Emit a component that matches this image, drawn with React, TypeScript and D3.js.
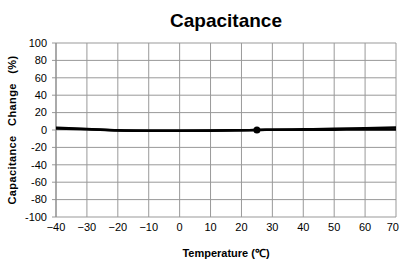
import React from "react";
import * as d3 from "d3";

const xTicks = [-40, -30, -20, -10, 0, 10, 20, 30, 40, 50, 60, 70];
const yTicks = [100, 80, 60, 40, 20, 0, -20, -40, -60, -80, -100];
const tempsA = [-40, -30, -20, -10, 0, 10, 20, 25, 30, 40, 50, 60, 70];
const valuesA = [2.5, 1.2, -0.3, -0.8, -0.9, -0.7, -0.3, 0, 0.3, 0.8, 1.3, 2.0, 2.8];
const tempsB = [-40, -30, -20, -10, 0, 10, 20, 25, 30, 40, 50, 60, 70];
const valuesB = [1.8, 0.8, -0.5, -1.0, -1.0, -0.8, -0.4, 0, 0.2, 0.3, 0.4, 0.5, 0.5];
const refPoint = [25, 0];

export default function App() {
  const W = 400, H = 261;
  const x = d3.scaleLinear().domain([-40, 70]).range([56, 396]);
  const y = d3.scaleLinear().domain([-100, 100]).range([217, 43]);
  const line = d3.line<[number, number]>().x(d => x(d[0])).y(d => y(d[1])).curve(d3.curveMonotoneX);
  const dA = line(tempsA.map((t, i) => [t, valuesA[i]] as [number, number]))!;
  const dB = line(tempsB.map((t, i) => [t, valuesB[i]] as [number, number]))!;
  const font = "'Liberation Sans', Arial, sans-serif";
  return (
    <svg width={W} height={H} style={{ position: "absolute", left: 0, top: 0 }} fontFamily={font}>
      <rect width={W} height={H} fill="#fff" />
      <text x={226} y={27} textAnchor="middle" fontSize={19} fontWeight="bold">Capacitance</text>
      {xTicks.map(t => (
        <line key={"gx" + t} x1={x(t)} x2={x(t)} y1={y(100)} y2={y(-100)} stroke="#999" strokeWidth={1} />
      ))}
      {yTicks.map(t => (
        <line key={"gy" + t} x1={x(-40) - 4} x2={x(70)} y1={y(t)} y2={y(t)} stroke="#999" strokeWidth={1} />
      ))}
      <line x1={x(-40)} x2={x(-40)} y1={y(100)} y2={y(-100)} stroke="#888" />
      {yTicks.map(t => (
        <text key={"ly" + t} x={47} y={y(t)} dy="0.35em" textAnchor="end" fontSize={11}>{t < 0 ? "-" + Math.abs(t) : t}</text>
      ))}
      {xTicks.map((t, i) => (
        <text key={"lx" + t} x={i === xTicks.length - 1 ? 399 : x(t)} y={231} textAnchor={i === xTicks.length - 1 ? "end" : "middle"} fontSize={11}>{t < 0 ? "\u2212" + Math.abs(t) : t}</text>
      ))}
      <text x={226} y={257} textAnchor="middle" fontSize={11} fontWeight="bold">Temperature (℃)</text>
      <text transform={`translate(16,${(y(100) + y(-100)) / 2}) rotate(-90)`} textAnchor="middle" fontSize={11} fontWeight="bold" letterSpacing={0.4} wordSpacing={6}>Capacitance Change (%)</text>
      <path d={dB} fill="none" stroke="#000" strokeWidth={2.5} />
      <path d={dA} fill="none" stroke="#000" strokeWidth={2.5} />
      <circle cx={x(refPoint[0])} cy={y(refPoint[1])} r={3.5} fill="#000" />
    </svg>
  );
}
